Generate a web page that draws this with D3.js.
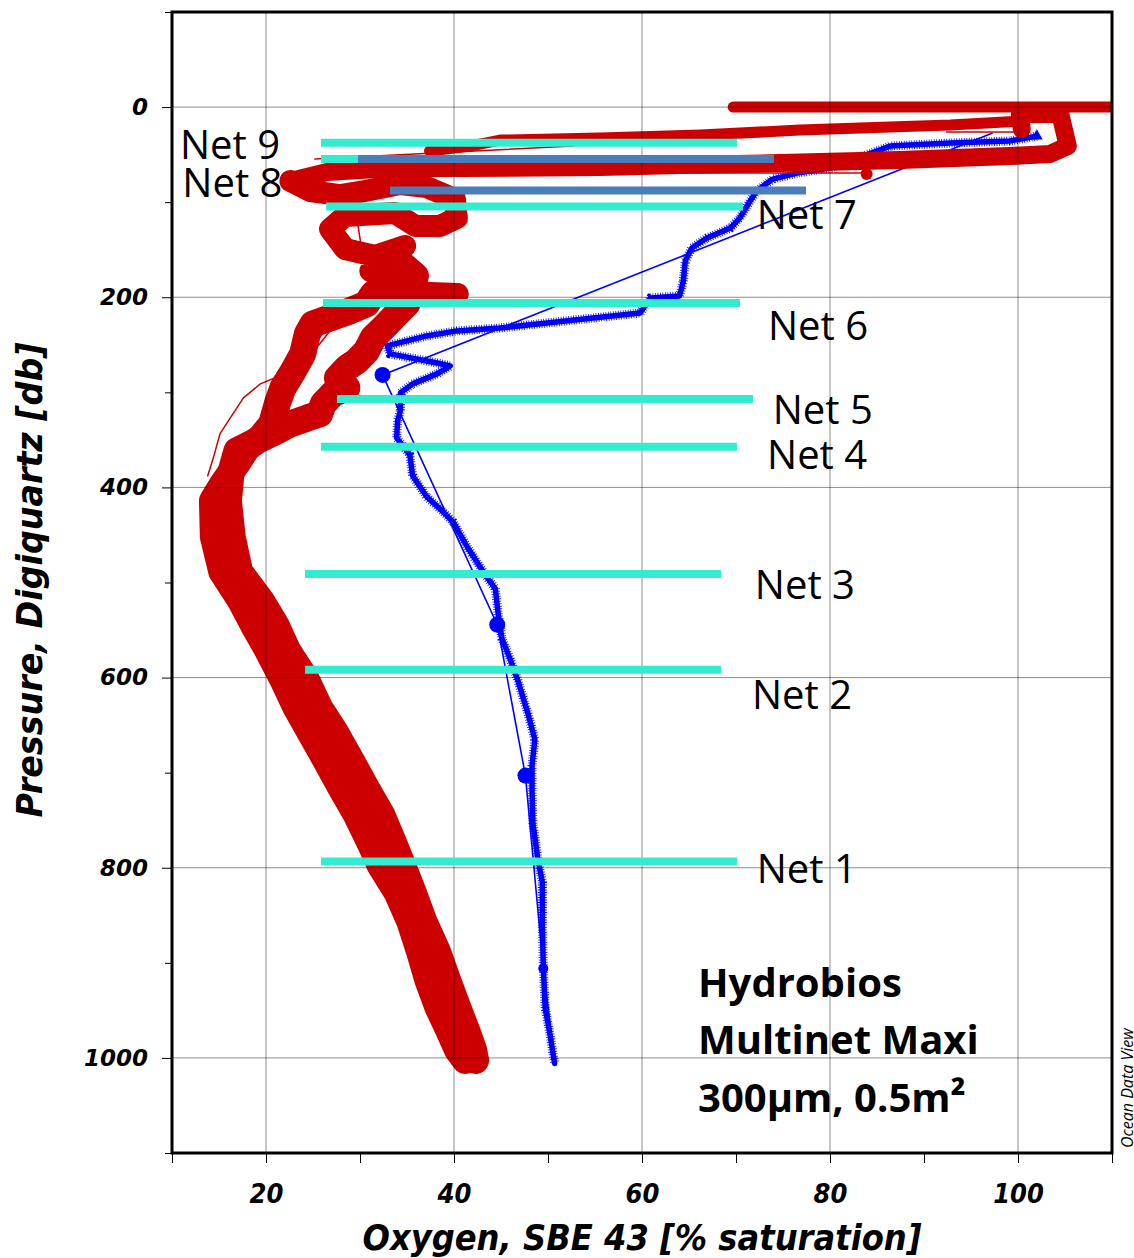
<!DOCTYPE html>
<html>
<head>
<meta charset="utf-8">
<script src="https://cdn.jsdelivr.net/npm/d3@7"></script>
<style>
  body { margin: 0; background: #fff; }
  svg { display: block; }
</style>
</head>
<body>
<div id="chart"></div>
<script>
// All points are [oxygen % saturation, pressure db]

// red profile (thick casts)
const redSurface = [[69.7, 0], [112, 0]];
const redStripe = [[100.2, 14.7], [92.8, 18.9], [76.8, 24.2], [66.2, 29.4], [55.5, 32.6], [44.9, 34.7], [41.7, 41], [37.4, 46.2]];
const redBandTop = [[100.4, 23.1], [100.2, 7.4], [104.5, 7.4], [105.3, 41], [103.4, 49.4], [99.1, 51.5], [87.4, 55.7],
  [74.7, 58.9], [64.0, 61], [55.5, 63.1], [40.6, 64.1], [33.5, 64.1], [26.5, 68.3], [22.6, 77.8]];
const redTangle = [[22.6, 77.8], [24.7, 88.3], [27.9, 92.5], [30.5, 88.3], [34.3, 80.9], [37.1, 84.1], [40.1, 96.7],
  [40.3, 116.7], [38.5, 125.1], [35.9, 125.1], [33.7, 111.4], [28.4, 114.6], [26.8, 128.2], [28.4, 149.2],
  [31.6, 156.6], [34.8, 146.1], [32.7, 159.8], [31.1, 172.4], [33.4, 182.9], [31.6, 193.4], [40.4, 196.5]];
const redDown = [[31.4, 196.5], [30.7, 207], [28.9, 214.4], [26.8, 221.8], [25.0, 228.1], [24.4, 238.6], [23.9, 259.6],
  [22.9, 277.5], [21.8, 295.3], [21.2, 312.1], [20.6, 333.2], [19.4, 347.9], [18.0, 358.4], [16.9, 375.2],
  [15.4, 396.2], [14.3, 414.1], [14.4, 451.9], [15.3, 488.7], [17.3, 519.2], [18.7, 545.5], [20.2, 571.7],
  [21.8, 602.2], [23.2, 631.7], [24.7, 657.9], [26.2, 684.2], [27.9, 714.7], [29.6, 744.1], [31.1, 774.6],
  [32.1, 796.7], [34.0, 827.1], [35.3, 856.6], [36.3, 887], [37.2, 917.5], [38.3, 947], [39.4, 970],
  [40.4, 992.1], [41.2, 1002.6]];
const redUp = [[34.3, 164], [35.9, 177.6], [35.3, 193.4], [35.0, 207], [33.9, 217.6], [32.9, 228.1], [31.4, 242.8],
  [30.7, 256.4], [29.7, 266.9], [28.6, 274.3], [27.6, 284.8], [28.6, 295.3], [27.1, 301.6], [26.1, 312.1],
  [25.7, 322.7], [24.4, 326.9], [22.6, 333.2], [21.2, 340.5], [19.0, 351], [16.9, 361.5], [16.3, 382.6],
  [16.0, 414.1], [16.4, 451.9], [17.2, 488.7], [19.5, 519.2], [21.1, 545.5], [22.3, 571.7], [24.3, 602.2],
  [25.7, 631.7], [27.4, 657.9], [28.9, 684.2], [30.6, 714.7], [32.3, 744.1], [33.6, 774.6], [34.5, 796.7],
  [35.7, 827.1], [36.8, 856.6], [38.2, 887], [39.3, 917.5], [40.4, 947], [41.3, 970], [42.1, 992.1], [42.3, 1002.6]];

// red thin traces
const redThinA = [[52.7, 41], [25.2, 54.7]];
const redThinB = [[22.6, 69.4], [83.4, 69.4]];
const redThinC = [[92.4, 26.3], [99.5, 26.3]];
const redThinProfile = [[13.8, 387.8], [14.4, 368.9], [15.1, 343.7], [16.2, 326.9], [17.6, 305.8], [19.4, 291.1],
  [22.2, 279.6], [24.4, 263.8], [25.7, 249.1], [26.8, 235.4], [27.6, 224.9], [29.3, 221.8], [30.7, 211.3],
  [31.3, 200.7], [30.9, 172.4], [30.2, 151.3], [29.8, 125.1], [28.4, 98.8], [27.3, 83], [23.6, 72.5]];
const redDot = [83.9, 70.4];

// blue profile
const blueProfile = [[102.0, 30.5], [99.1, 35.7], [92.8, 37.8], [86.4, 41], [82.1, 56.8], [80.0, 64.1], [76.5, 69.4],
  [73.9, 75.7], [72.2, 88.3], [71.5, 98.8], [70.4, 116.7], [69.4, 127.2], [66.9, 137.7], [65.3, 148.2],
  [64.6, 161.9], [64.4, 182.9], [64.0, 198.6], [60.9, 200.7], [60.3, 209.1], [59.8, 216.5], [54.8, 221.8],
  [49.9, 227], [44.9, 232.3], [40.3, 235.4], [37.1, 240.7], [32.9, 251.2], [33.2, 259.6], [38.2, 269.1],
  [39.6, 272.2], [38.2, 280.6], [35.6, 291.1], [34.3, 300.6], [34.3, 319.5], [34.0, 330], [33.9, 347.9],
  [35.3, 365.7], [35.6, 387.8], [37.1, 409.9], [38.5, 422.5], [39.9, 436.2], [41.4, 462.4], [43.1, 488.7],
  [44.4, 506.6], [44.7, 532.9], [45.1, 559.1], [46.0, 581.2], [46.8, 603.3], [47.9, 639], [48.6, 665.3],
  [48.3, 692.6], [48.3, 718.9], [48.4, 753.6], [48.9, 789.3], [49.4, 815.6], [49.4, 859.7], [49.5, 903.9],
  [49.7, 948], [50.2, 974.3], [50.7, 1005.8]];
const blueBottles = [[97.3, 27.3], [32.4, 281.7], [44.6, 544.4], [47.6, 703.1], [49.5, 906], [50.7, 1002.6]];
const blueDots = [[32.4, 281.7], [44.6, 544.4], [47.6, 703.1], [49.5, 906]];
const blueTriangle = [102.0, 30.5];

// net sampling layers
const netNames = ["Net 9", "Net 8", "Net 7", "Net 6", "Net 5", "Net 4", "Net 3", "Net 2", "Net 1"];
const netDepth = [37.5, 54.6, 104.6, 206, 307, 357.3, 491, 591.7, 793.5];
const netFrom = [25.85, 25.85, 26.4, 26.06, 27.55, 25.85, 24.15, 24.15, 25.85];
const netTo = [70.1, 70.1, 70.74, 70.43, 71.81, 70.1, 68.4, 68.4, 70.1];
const netLabelX = [10.85, 11.1, 72.2, 73.4, 73.9, 73.3, 72.0, 71.7, 72.2];
const netLabelP = [54.7, 94.6, 128.2, 245, 333, 380.5, 517, 632.7, 815.6];

const extraDepth = [54.6, 87.8];
const extraFrom = [29.79, 33.19];
const extraTo = [74.04, 77.45];

const infoLines = ["Hydrobios", "Multinet Maxi", "300µm, 0.5m²"];
const infoP = [936.4, 996.3, 1057.3];

const width = 1134, height = 1258;
const plot = {left: 172, right: 1112, top: 12, bottom: 1153};

const x = d3.scaleLinear().domain([10, 110]).range([plot.left, plot.right]);
const y = d3.scaleLinear().domain([-100, 1100]).range([plot.top, plot.bottom]);
const line = d3.line().x(d => x(d[0])).y(d => y(d[1]));

const svg = d3.select("#chart").append("svg")
  .attr("width", width).attr("height", height);

svg.append("defs").append("clipPath").attr("id", "clip")
  .append("rect")
  .attr("x", plot.left).attr("y", plot.top)
  .attr("width", plot.right - plot.left).attr("height", plot.bottom - plot.top);

const dataG = svg.append("g").attr("clip-path", "url(#clip)");

// blue profile first (solid core plus a combed stroke for the sensor spikes)
dataG.append("path").datum(blueBottles).attr("d", line)
  .attr("fill", "none").attr("stroke", "#0000ff").attr("stroke-width", 1.6);
dataG.append("path").datum(blueProfile).attr("d", line)
  .attr("fill", "none").attr("stroke", "#0000ff").attr("stroke-width", 5.5)
  .attr("stroke-linejoin", "round").attr("stroke-linecap", "round");
dataG.append("path").datum(blueProfile).attr("d", line)
  .attr("fill", "none").attr("stroke", "#0000ff").attr("stroke-width", 9)
  .attr("stroke-dasharray", "0.8 1.7");
dataG.selectAll("circle.bdot").data(blueDots).join("circle").attr("class", "bdot")
  .attr("cx", d => x(d[0])).attr("cy", d => y(d[1]))
  .attr("r", (d, i) => i === 3 ? 5 : 8).attr("fill", "#0000ff");
dataG.append("path").attr("d", d3.symbol(d3.symbolTriangle, 60)())
  .attr("transform", `translate(${x(blueTriangle[0])},${y(blueTriangle[1])})`)
  .attr("fill", "#0000ff");

// red profile
const red = "#cc0000";
function redPath(data, w) {
  dataG.append("path").datum(data).attr("d", line)
    .attr("fill", "none").attr("stroke", red).attr("stroke-width", w)
    .attr("stroke-linejoin", "round").attr("stroke-linecap", "round");
}
redPath(redSurface, 11);
redPath(redStripe, 11);
redPath(redBandTop, 18);
redPath(redTangle, 22);
redPath(redDown, 27);
redPath(redUp, 27);
redPath(redThinA, 1.5);
redPath(redThinB, 1.5);
redPath(redThinC, 1.5);
redPath(redThinProfile, 1.5);
dataG.append("circle").attr("cx", x(redDot[0])).attr("cy", y(redDot[1])).attr("r", 6).attr("fill", red);

// grid on top of the profiles
const grid = svg.append("g").attr("stroke", "#000").attr("stroke-opacity", 0.45).attr("stroke-width", 1);
grid.selectAll("line.v").data(d3.range(20, 101, 20)).join("line").attr("class", "v")
  .attr("x1", d => x(d)).attr("x2", d => x(d)).attr("y1", plot.top).attr("y2", plot.bottom);
grid.selectAll("line.h").data(d3.range(0, 1001, 200)).join("line").attr("class", "h")
  .attr("y1", d => y(d)).attr("y2", d => y(d)).attr("x1", plot.left).attr("x2", plot.right);

// net bars
const barG = svg.append("g");
barG.selectAll("line.net").data(netDepth).join("line").attr("class", "net")
  .attr("x1", (d, i) => x(netFrom[i])).attr("x2", (d, i) => x(netTo[i]))
  .attr("y1", d => y(d)).attr("y2", d => y(d))
  .attr("stroke", "#33ebcf").attr("stroke-width", 8);
barG.selectAll("line.extra").data(extraDepth).join("line").attr("class", "extra")
  .attr("x1", (d, i) => x(extraFrom[i])).attr("x2", (d, i) => x(extraTo[i]))
  .attr("y1", d => y(d)).attr("y2", d => y(d))
  .attr("stroke", "#4a7ebb").attr("stroke-width", 8);

// net labels
svg.append("g").selectAll("text").data(netNames).join("text")
  .attr("x", (d, i) => x(netLabelX[i])).attr("y", (d, i) => y(netLabelP[i]))
  .attr("font-family", "'Open Sans', 'Noto Sans', sans-serif")
  .attr("font-size", 40).attr("fill", "#000")
  .text(d => d);

// info block
svg.append("g").selectAll("text").data(infoLines).join("text")
  .attr("x", x(65.96)).attr("y", (d, i) => y(infoP[i]))
  .attr("font-family", "'Open Sans', sans-serif").attr("font-weight", "bold")
  .attr("font-size", 40).attr("fill", "#000")
  .text(d => d);

// axes
const yAxis = d3.axisLeft(y).tickValues(d3.range(-100, 1101, 100))
  .tickSize(10).tickPadding(14)
  .tickFormat(d => (d % 200 === 0 && d >= 0 && d <= 1000) ? d : "");
const gy = svg.append("g").attr("transform", `translate(${plot.left},0)`).call(yAxis);
gy.select(".domain").remove();
gy.selectAll(".tick").filter(d => d % 200 !== 0).select("line").attr("x2", -7);
gy.selectAll(".tick line").attr("stroke", "#000");
gy.selectAll(".tick text")
  .attr("font-family", "'DejaVu Sans', sans-serif").attr("font-weight", "bold")
  .attr("font-style", "italic").attr("font-size", 23).attr("fill", "#000");

const xAxis = d3.axisBottom(x).tickValues(d3.range(10, 111, 10))
  .tickSize(10).tickPadding(21)
  .tickFormat(d => (d % 20 === 0 && d >= 20 && d <= 100) ? d : "");
const gx = svg.append("g").attr("transform", `translate(0,${plot.bottom})`).call(xAxis);
gx.select(".domain").remove();
gx.selectAll(".tick line").attr("stroke", "#000");
gx.selectAll(".tick text")
  .attr("font-family", "'DejaVu Sans Condensed', 'DejaVu Sans', sans-serif").attr("font-stretch", "condensed")
  .attr("font-weight", "bold").attr("font-style", "italic").attr("font-size", 27).attr("fill", "#000");

// axis titles
svg.append("text")
  .attr("x", 642).attr("y", 1250).attr("text-anchor", "middle")
  .attr("font-family", "'DejaVu Sans Condensed', 'DejaVu Sans', sans-serif").attr("font-stretch", "condensed")
  .attr("font-weight", "bold").attr("font-style", "italic").attr("font-size", 36)
  .attr("textLength", 559).attr("lengthAdjust", "spacingAndGlyphs")
  .text("Oxygen, SBE 43 [% saturation]");
svg.append("text")
  .attr("transform", "translate(42,580) rotate(-90)").attr("text-anchor", "middle")
  .attr("font-family", "'DejaVu Sans Condensed', 'DejaVu Sans', sans-serif").attr("font-stretch", "condensed")
  .attr("font-weight", "bold").attr("font-style", "italic").attr("font-size", 36)
  .attr("textLength", 475).attr("lengthAdjust", "spacingAndGlyphs")
  .text("Pressure, Digiquartz [db]");

// watermark
svg.append("text")
  .attr("transform", "translate(1133,1148) rotate(-90)")
  .attr("font-family", "'Open Sans', sans-serif").attr("font-style", "italic")
  .attr("font-size", 16).attr("fill", "#000")
  .text("Ocean Data View");

// frame
svg.append("rect")
  .attr("x", plot.left).attr("y", plot.top)
  .attr("width", plot.right - plot.left).attr("height", plot.bottom - plot.top)
  .attr("fill", "none").attr("stroke", "#000").attr("stroke-width", 3);
</script>
</body>
</html>
